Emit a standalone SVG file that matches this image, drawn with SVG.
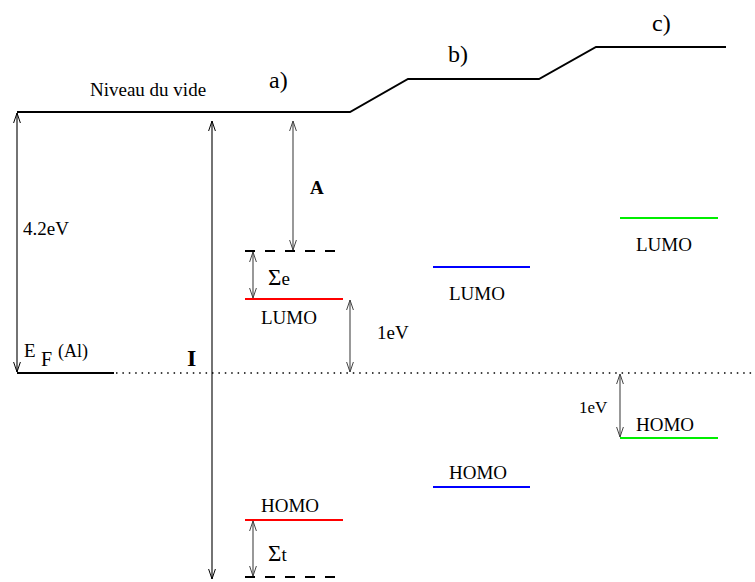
<svg xmlns="http://www.w3.org/2000/svg" width="755" height="582" viewBox="0 0 755 582">
<defs>
<marker id="ah" viewBox="-12 -5 14 10" refX="0" refY="0" markerWidth="14" markerHeight="10" markerUnits="userSpaceOnUse" orient="auto-start-reverse">
<path d="M-10,-3.4 L0,0 L-10,3.4" fill="none" stroke="context-stroke" stroke-width="1"/>
</marker>
<style>
text{font-family:"Liberation Serif","Times New Roman",serif;fill:#000;font-size:19px}
.b{font-weight:bold}
.big{font-size:24px}
.sig{font-size:23px}
.lvl{stroke-width:2;fill:none}
.arr{stroke-width:1.1;fill:none;marker-start:url(#ah);marker-end:url(#ah)}
.k{stroke:#000}
.g{stroke:#444}
.dash{stroke:#000;stroke-width:2;stroke-dasharray:10 10}
</style>
</defs>
<rect width="755" height="582" fill="#fff"/>
<g id="vacuum">
<polyline class="lvl" stroke="#000" points="17,112 350,112 408,79 539,79 596,47 726,47"/>
<text x="90" y="96">Niveau du vide</text>
<text class="big" x="269" y="88">a)</text>
<text class="big" x="448" y="62">b)</text>
<text class="big" x="652" y="31">c)</text>
</g>
<g id="fermi">
<line class="lvl" stroke="#000" x1="17" y1="373" x2="114" y2="373"/>
<line stroke="#000" stroke-width="1.5" stroke-dasharray="1.5 4.9" x1="116" y1="373" x2="755" y2="373"/>
<text x="24" y="357">E</text>
<text x="41" y="366" style="font-size:20px">F</text>
<text x="58" y="357" style="font-size:18px">(Al)</text>
</g>
<g id="a-levels">
<line class="dash" x1="245" y1="251" x2="335" y2="251"/>
<line class="lvl" stroke="#f00" x1="245" y1="299" x2="343" y2="299"/>
<text x="261" y="324">LUMO</text>
<line class="lvl" stroke="#f00" x1="245" y1="520" x2="343" y2="520"/>
<text x="261" y="512">HOMO</text>
<line class="dash" x1="245" y1="577" x2="335" y2="577"/>
</g>
<g id="b-levels">
<line class="lvl" stroke="#00f" x1="433" y1="267" x2="530" y2="267"/>
<text x="449" y="300">LUMO</text>
<line class="lvl" stroke="#00f" x1="433" y1="487" x2="530" y2="487"/>
<text x="449" y="479">HOMO</text>
</g>
<g id="c-levels">
<line class="lvl" stroke="#0e0" x1="620" y1="218" x2="718" y2="218"/>
<text x="636" y="251">LUMO</text>
<line class="lvl" stroke="#0e0" x1="620" y1="438" x2="718" y2="438"/>
<text x="636" y="431">HOMO</text>
</g>
<g id="connectors">
<line class="arr k" x1="17" y1="113" x2="17" y2="372"/>
<line class="arr k" x1="212" y1="121" x2="212" y2="579"/>
<line class="arr g" x1="293" y1="121" x2="293" y2="250"/>
<line class="arr g" x1="253" y1="252" x2="253" y2="298"/>
<line class="arr g" x1="350" y1="300" x2="350" y2="372"/>
<line class="arr g" x1="253" y1="521" x2="253" y2="576"/>
<line class="arr g" x1="620" y1="374" x2="620" y2="437"/>
</g>
<g id="labels">
<text x="23" y="235">4.2eV</text>
<text class="b big" x="187" y="366">I</text>
<text class="b" x="310" y="194">A</text>
<text x="268" y="285"><tspan class="sig">Σ</tspan>e</text>
<text x="268" y="561"><tspan class="sig">Σ</tspan>t</text>
<text x="377" y="339">1eV</text>
<text x="579" y="413" style="font-size:17px">1eV</text>
</g>
</svg>
